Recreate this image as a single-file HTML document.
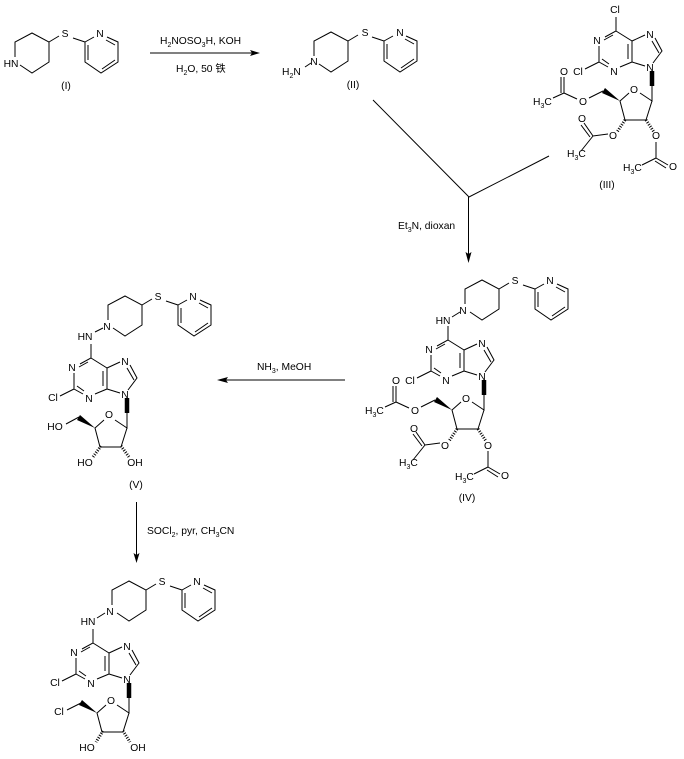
<!DOCTYPE html>
<html><head><meta charset="utf-8"><style>
html,body{margin:0;padding:0;background:#fff}
svg{display:block}
text{font-family:"Liberation Sans","Noto Sans CJK SC",sans-serif;font-size:10.3px;fill:#000}
.a{text-anchor:middle}
.s{font-size:7px}
.b{fill:none;stroke:#000;stroke-width:1}
.h{fill:none;stroke:#000;stroke-width:3;stroke-dasharray:1 1.5}
</style></head><body>
<svg xmlns="http://www.w3.org/2000/svg" width="684" height="759" viewBox="0 0 684 759">
<defs>
<g id="pip">
<path class="b" d="M15 57V42L32 33L49 42V62L32 73L20 65M49 42L59 36M73 38L85 42M85 42L94 37M107 37L118 42V62L101 73L85 62V42M88 45V60M102 69L115 60M106 40L115 45"/>
</g>
<g id="pur">
<path class="b" d="M448 326V340L437 346M445 344L436 349M431 355V371L440 376M434 368L441 373M452 376L464 371V350L448 340M460 368V353M464 350L477 344M487 347L494 360L485 372M484 350L491 362M477 375L464 371M431 371L417 378"/>
</g>
<g id="sug">
<path class="b" d="M484 394V410L472 402M484 410L478 429H457L452 410L461 402"/>
<line x1="484" y1="380" x2="484" y2="395" stroke="#000" stroke-width="4.500"/>
<polygon points="452,410 434,402 437,397"/>
</g>
<g id="ace">
<path class="b" d="M435 400L421 407M409 408L396 402V386M393 402V386M396 402L385 407M440 443L425 445L416 432M422 446L413 434M425 445L413 460M488 451V467L500 474M487 470L498 477M488 467L474 474"/>
<line class="h" x1="457" y1="429" x2="449" y2="441"/>
<line class="h" x1="478" y1="429" x2="486" y2="441"/>
</g>
</defs>

<!-- arrows -->
<path class="b" d="M150 53H252M373 100L469 197L549 156M468.500 197V255M345 380H224M136.500 502V555"/>
<polygon points="260,53 250,50 252,53 250,56"/>
<polygon points="468.500,263 465.500,252 468.500,254 471.500,252"/>
<polygon points="217,380 228,377 226,380 228,383"/>
<polygon points="136.500,563 133.500,553 136.500,555 139.500,553"/>

<!-- reagents -->
<text x="160" y="44">H<tspan class="s" dy="3">2</tspan><tspan dy="-3">NOSO</tspan><tspan class="s" dy="3">3</tspan><tspan dy="-3">H, KOH</tspan></text>
<text x="176" y="72">H<tspan class="s" dy="3">2</tspan><tspan dy="-3">O, 50 铁</tspan></text>
<text x="398" y="229">Et<tspan class="s" dy="3">3</tspan><tspan dy="-3">N, dioxan</tspan></text>
<text x="257" y="370">NH<tspan class="s" dy="3">3</tspan><tspan dy="-3">, MeOH</tspan></text>
<text x="147" y="534">SOCl<tspan class="s" dy="3">2</tspan><tspan dy="-3">, pyr, CH</tspan><tspan class="s" dy="3">3</tspan><tspan dy="-3">CN</tspan></text>

<!-- I -->
<use href="#pip"/>
<text class="a" x="11" y="67">HN</text><text class="a" x="65" y="37">S</text><text class="a" x="100" y="37">N</text>
<text class="a" x="66" y="89">(I)</text>

<!-- II -->
<g transform="translate(299,-1)"><use href="#pip"/>
<text class="a" x="15" y="66">N</text><text class="a" x="66" y="37">S</text><text class="a" x="101" y="37">N</text></g>
<path class="b" d="M305 67L311 63"/>
<text x="282" y="75">H<tspan class="s" dy="3">2</tspan><tspan dy="-3">N</tspan></text>
<text class="a" x="353" y="88">(II)</text>

<!-- III -->
<g transform="translate(168,-309)">
<use href="#pur"/><use href="#sug"/><use href="#ace"/>
<text class="a" x="447" y="322">Cl</text>
<text class="a" x="429" y="353">N</text><text class="a" x="446" y="384">N</text><text class="a" x="482" y="347">N</text><text class="a" x="482" y="380">N</text>
<text class="a" x="410" y="384">Cl</text><text class="a" x="466" y="402">O</text><text class="a" x="415" y="414">O</text><text class="a" x="396" y="384">O</text>
<text x="365" y="414">H<tspan class="s" dy="3">3</tspan><tspan dy="-3">C</tspan></text>
<text class="a" x="445" y="448">O</text><text class="a" x="414" y="431">O</text>
<text x="399" y="466">H<tspan class="s" dy="3">3</tspan><tspan dy="-3">C</tspan></text>
<text class="a" x="488" y="448">O</text><text class="a" x="505" y="479">O</text>
<text x="455" y="480">H<tspan class="s" dy="3">3</tspan><tspan dy="-3">C</tspan></text>
</g>
<text class="a" x="607" y="188">(III)</text>

<!-- IV -->
<g transform="translate(450,247)"><use href="#pip"/>
<text class="a" x="13" y="67">N</text><text class="a" x="65" y="37">S</text><text class="a" x="100" y="37">N</text></g>
<path class="b" d="M452 317L460 312"/>
<use href="#pur"/><use href="#sug"/><use href="#ace"/>
<text class="a" x="443" y="324">HN</text>
<text class="a" x="429" y="353">N</text><text class="a" x="446" y="384">N</text><text class="a" x="482" y="347">N</text><text class="a" x="482" y="380">N</text>
<text class="a" x="410" y="384">Cl</text><text class="a" x="466" y="402">O</text><text class="a" x="415" y="414">O</text><text class="a" x="396" y="384">O</text>
<text x="365" y="414">H<tspan class="s" dy="3">3</tspan><tspan dy="-3">C</tspan></text>
<text class="a" x="445" y="449">O</text><text class="a" x="414" y="432">O</text>
<text x="399" y="466">H<tspan class="s" dy="3">3</tspan><tspan dy="-3">C</tspan></text>
<text class="a" x="488" y="449">O</text><text class="a" x="505" y="479">O</text>
<text x="455" y="480">H<tspan class="s" dy="3">3</tspan><tspan dy="-3">C</tspan></text>
<text class="a" x="467" y="501">(IV)</text>

<!-- V -->
<g transform="translate(93,263)"><use href="#pip"/>
<text class="a" x="14" y="67">N</text><text class="a" x="65" y="37">S</text><text class="a" x="100" y="37">N</text></g>
<path class="b" d="M95 332L103 328"/>
<g transform="translate(-357,18)"><use href="#pur"/><use href="#sug"/>
<text class="a" x="429" y="353">N</text><text class="a" x="446" y="384">N</text><text class="a" x="482" y="347">N</text><text class="a" x="482" y="380">N</text>
<text class="a" x="410" y="383">Cl</text><text class="a" x="466" y="400">O</text></g>
<text class="a" x="85" y="340">HN</text>
<path class="b" d="M79 417L66 424"/>
<line class="h" x1="101" y1="446" x2="93" y2="457"/>
<line class="h" x1="121" y1="446" x2="129" y2="457"/>
<text class="a" x="55" y="430">HO</text><text class="a" x="85" y="466">HO</text><text class="a" x="135" y="466">OH</text>
<text class="a" x="136" y="488">(V)</text>

<!-- VI -->
<g transform="translate(97,548)"><use href="#pip"/>
<text class="a" x="13" y="67">N</text><text class="a" x="65" y="37">S</text><text class="a" x="100" y="37">N</text></g>
<path class="b" d="M97 618L105 613"/>
<g transform="translate(-355,303)"><use href="#pur"/><use href="#sug"/>
<text class="a" x="429" y="353">N</text><text class="a" x="446" y="384">N</text><text class="a" x="482" y="347">N</text><text class="a" x="482" y="380">N</text>
<text class="a" x="410" y="383">Cl</text><text class="a" x="466" y="401">O</text></g>
<text class="a" x="88" y="625">HN</text>
<path class="b" d="M81 703L67 710"/>
<line class="h" x1="103" y1="731" x2="96" y2="742"/>
<line class="h" x1="123" y1="731" x2="130" y2="742"/>
<text class="a" x="59" y="715">Cl</text><text class="a" x="87" y="751">HO</text><text class="a" x="138" y="751">OH</text>
</svg>
</body></html>
